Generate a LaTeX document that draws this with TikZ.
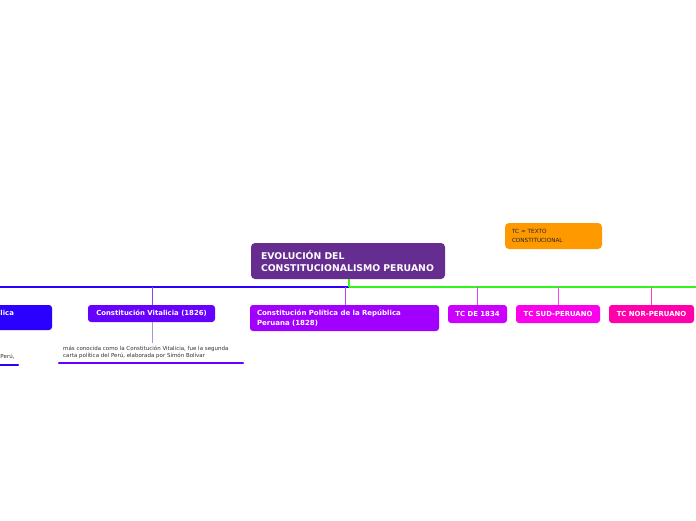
\documentclass[tikz,border=0pt]{standalone}
\usepackage{fontspec}
\setmainfont{DejaVu Sans}
\definecolor{cmain}{RGB}{102,45,145}
\definecolor{cblue}{RGB}{43,0,255}
\definecolor{cvit}{RGB}{102,0,255}
\definecolor{cpol}{RGB}{161,0,255}
\definecolor{cdies}{RGB}{204,0,255}
\definecolor{csud}{RGB}{250,0,235}
\definecolor{cnor}{RGB}{255,0,170}
\definecolor{cgreen}{RGB}{51,245,30}
\definecolor{corange}{RGB}{255,153,0}
\definecolor{ctext}{RGB}{50,50,50}
\tikzset{
  topic/.style={rounded corners=3pt, text=white, font=\bfseries\fontsize{6.9}{8}\selectfont, inner sep=0pt, align=center},
  twoline/.style={topic, align=left, font=\bfseries\fontsize{7}{10}\selectfont},
  conn/.style={line width=0.8pt},
  desc/.style={font=\fontsize{5.5}{7.2}\selectfont, text=ctext, align=left, inner sep=0pt, anchor=north west},
}
\begin{document}
\begin{tikzpicture}[x=1pt,y=-1pt]
\useasboundingbox (0,0) rectangle (696,520);
\fill[white] (0,0) rectangle (696,520);
% main
\node[rounded corners=4pt, fill=cmain, text=white, font=\bfseries\fontsize{9.3}{11.5}\selectfont, align=left, text width=174pt, minimum width=194pt, minimum height=36pt, inner xsep=10pt, inner ysep=0pt] (main) at (348,261) {EVOLUCIÓN DEL\\CONSTITUCIONALISMO PERUANO};
% note
\node[rounded corners=4pt, fill=corange, font=\fontsize{5.7}{9}\selectfont, text=black!85, align=left, text width=83pt, minimum width=97pt, minimum height=26pt, inner xsep=7pt, inner ysep=0pt] (note) at (553.5,236) {TC = TEXTO\\CONSTITUCIONAL};
% bus coordinates
\coordinate (bl) at (0,287);
\coordinate (bm) at (349,287);
\coordinate (br) at (696,287);
\draw[cblue, line width=1.3pt] (bl) -- (bm);
\draw[cgreen, line width=1.3pt] (bm) -- (br);
\draw[cgreen, line width=1.3pt] (main.south -| bm) -- (bm);
% children
\node[topic, fill=cblue, minimum width=189pt, minimum height=25pt] (c23) at (-42.5,317.5) {};
\node[topic, anchor=west, inner sep=0pt] (c23t) at (0.3,313) {lica};
\node[topic, fill=cvit, minimum width=127pt, minimum height=17pt] (c26) at (151.5,313.5) {Constitución Vitalicia (1826)};
\node[twoline, fill=cpol, minimum width=189pt, minimum height=26pt, text width=175pt] (c28) at (344.5,318) {Constitución Política de la República\\Peruana (1828)};
\node[topic, fill=cdies, minimum width=59pt, minimum height=18pt] (c34) at (477.5,314) {TC DE 1834};
\node[topic, fill=csud, minimum width=84pt, minimum height=18pt] (csud) at (558,314) {TC SUD-PERUANO};
\node[topic, fill=cnor, minimum width=85pt, minimum height=18pt] (cnor) at (651.5,314) {TC NOR-PERUANO};
% connectors from bus
\coordinate (t26) at (152,287);
\coordinate (t28) at (345,287);
\coordinate (t34) at (477,287);
\coordinate (tsud) at (558,287);
\coordinate (tnor) at (651,287);
\draw[conn, cvit!75] (t26) -- (t26 |- c26.north);
\draw[conn, cpol!75] (t28) -- (t28 |- c28.north);
\draw[conn, cdies!75] (t34) -- (t34 |- c34.north);
\draw[conn, csud!75] (tsud) -- (tsud |- csud.north);
\draw[conn, cnor!75] (tnor) -- (tnor |- cnor.north);
% description of 1826
\coordinate (d26) at (152,343);
\draw[conn, cvit!40!gray!60] (c26.south -| d26) -- (d26);
\node[desc] (txt26) at (63,345.5) {más conocida como la Constitución Vitalicia, fue la segunda\\carta política del Perú, elaborada por Simón Bolívar};
\coordinate (u26a) at (59,363);
\coordinate (u26b) at (243,363);
\draw[cvit, line width=2.2pt, line cap=round] (u26a) -- (u26b);
% description of 1823 (cut off)
\node[desc] (txt23) at (0.3,353.5) {Perú,};
\coordinate (u23a) at (-20,365);
\coordinate (u23b) at (18,365);
\draw[cblue, line width=2.2pt, line cap=round] (u23a) -- (u23b);
\end{tikzpicture}
\end{document}
